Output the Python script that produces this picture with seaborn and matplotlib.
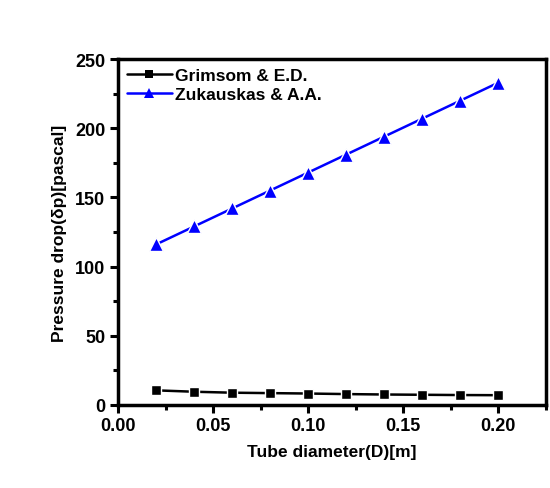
import matplotlib
matplotlib.use("Agg")
import matplotlib.pyplot as plt
import seaborn as sns
import pandas as pd
from matplotlib.ticker import MultipleLocator, FormatStrFormatter

# Tube diameter (m) and pressure drop (Pa) for the two correlations
diameter = [0.02, 0.04, 0.06, 0.08, 0.10, 0.12, 0.14, 0.16, 0.18, 0.20]
grimsom = [10.5, 9.5, 8.8, 8.5, 8.2, 7.8, 7.5, 7.3, 7.1, 7.0]
zukauskas = [116, 129, 142, 155, 168, 181, 194, 207, 220, 233]
series_names = ["Grimsom & E.D.", "Zukauskas & A.A."]

df = pd.concat([
    pd.DataFrame({"D": diameter, "dp": grimsom, "model": series_names[0]}),
    pd.DataFrame({"D": diameter, "dp": zukauskas, "model": series_names[1]}),
])

sns.set_theme(style="white")
plt.rcParams["font.family"] = ["Liberation Sans", "DejaVu Sans"]
plt.rcParams["font.weight"] = "bold"
plt.rcParams["text.color"] = "black"
plt.rcParams["axes.labelcolor"] = "black"
plt.rcParams["xtick.color"] = "black"
plt.rcParams["ytick.color"] = "black"

fig = plt.figure(figsize=(5.5, 4.89), dpi=100)
ax = fig.add_axes([0.2145, 0.170, 0.778, 0.707])

sns.lineplot(data=df, x="D", y="dp", hue="model", style="model",
             palette={series_names[0]: "black", series_names[1]: "#0000ff"},
             markers={series_names[0]: "s", series_names[1]: "^"},
             dashes=False, markersize=8, linewidth=1.8,
             markeredgecolor="white", markeredgewidth=1.0, ax=ax)

# per-series marker sizes
sizes = {"s": 7.5, "^": 9.5}
for ln in ax.lines:
    m = ln.get_marker()
    if m in sizes:
        ln.set_markersize(sizes[m])

ax.set_xlim(0, 0.225)
ax.set_ylim(0, 250)
ax.xaxis.set_major_locator(MultipleLocator(0.05))
ax.xaxis.set_minor_locator(MultipleLocator(0.025))
ax.yaxis.set_major_locator(MultipleLocator(50))
ax.yaxis.set_minor_locator(MultipleLocator(25))
ax.xaxis.set_major_formatter(FormatStrFormatter("%.2f"))

for s in ax.spines.values():
    s.set_linewidth(2.5)
    s.set_color("black")
ax.tick_params(which="major", direction="out", length=6, width=2.2,
               labelsize=13, bottom=True, left=True, colors="black", pad=3)
ax.tick_params(which="minor", direction="out", length=3.5, width=2.2,
               bottom=True, left=True, colors="black")
for lab in ax.get_xticklabels() + ax.get_yticklabels():
    lab.set_fontweight("bold")

ax.set_xlabel("Tube diameter(D)[m]", fontsize=12.5, fontweight="bold",
              labelpad=7, color="black")
ax.set_ylabel("Pressure drop(δp)[pascal]", fontsize=12.5, fontweight="bold",
              labelpad=6, color="black")

leg = ax.legend(loc="upper left", frameon=False, fontsize=12.5,
                handlelength=2.6, borderaxespad=0.2, handletextpad=0.2,
                labelspacing=0.2, borderpad=0.3)
for t in leg.get_texts():
    t.set_fontweight("bold")
    t.set_color("black")
for h in leg.legend_handles:
    h.set_markersize(7 if h.get_marker() == "^" else 6)
    h.set_markeredgewidth(0)

fig.savefig("out.png", dpi=100, facecolor="white")
